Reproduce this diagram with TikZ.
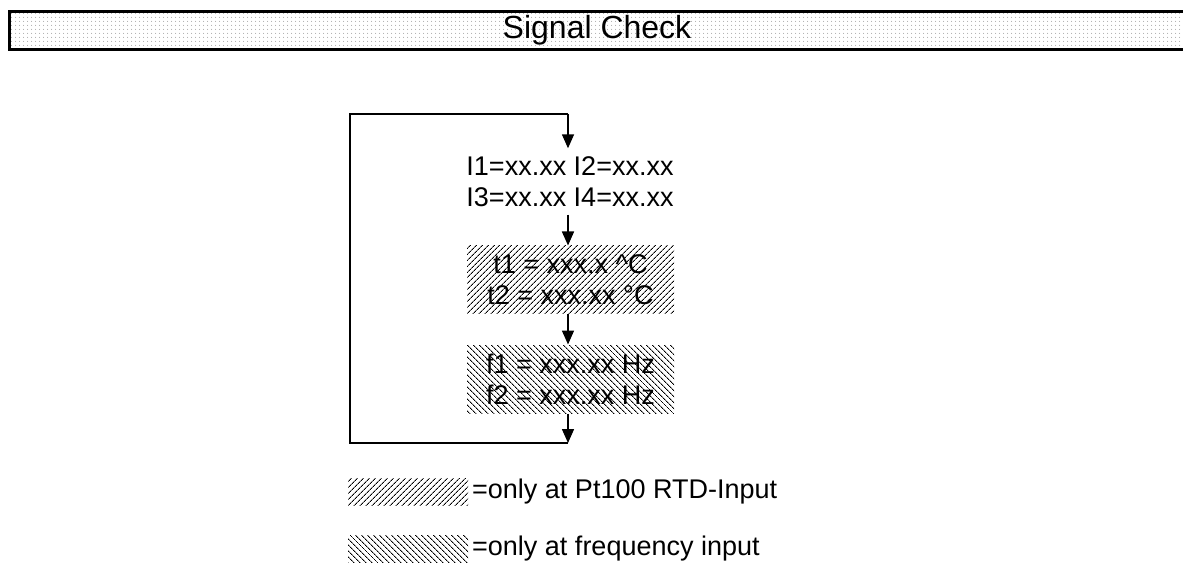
\documentclass[tikz,border=0pt]{standalone}
\usepackage{fontspec}
\setmainfont{Liberation Sans}
\usetikzlibrary{patterns.meta,arrows.meta}

\begin{document}
\begin{tikzpicture}[x=1pt,y=-1pt,
  flow/.style={-{Triangle[width=12pt,length=14pt]}, line width=1.5pt},
  loopline/.style={line width=1.5pt},
  txt/.style={font=\fontsize{27}{31}\selectfont, inner sep=0pt, align=center},
  rtd/.style={pattern={Lines[angle=45,distance=4pt,line width=1pt]}},
  freq/.style={pattern={Lines[angle=-45,distance=4pt,line width=1pt]}},
  valbox/.style={txt, minimum width=207pt},
  keybox/.style={inner sep=0pt, minimum width=120pt, minimum height=27pt},
]
\useasboundingbox (0,0) rectangle (1183,577);

% title bar
\fill[pattern={Dots[distance=4pt,radius=0.6pt]}, pattern color=gray!90]
  (9,12) rectangle (1195,49);
\draw[line width=3pt] (1195,11.5) -- (9,11.5) -- (9,49.5) -- (1195,49.5);
\node[font=\fontsize{32}{38}\selectfont, inner sep=0pt] (title) at (597,30) {Signal Check};

% display values
\node[txt, minimum height=66pt] (ival) at (570,181.5)
  {I1=xx.xx I2=xx.xx\\I3=xx.xx I4=xx.xx};
\node[valbox, rtd, minimum height=67pt] (temp) at (570.5,279.5)
  {t1 = xxx.x \textasciicircum C\\t2 = xxx.xx °C};
\node[valbox, freq, minimum height=68pt] (freqv) at (570.5,379)
  {f1 = xxx.xx Hz\\f2 = xxx.xx Hz};

% loop back
\coordinate (top) at (568,114);
\coordinate (bot) at (568,443);
\coordinate (tl) at (350,114);
\coordinate (bl) at (350,443);
\draw[loopline] (bot) -- (bl) -- (tl) -- (top);
\draw[flow] (top) -- (ival.north -| top);
\draw[flow] (ival.south -| top) -- (temp.north -| top);
\draw[flow] (temp.south -| top) -- (freqv.north -| top);
\draw[flow] (freqv.south -| top) -- (bot);

% key
\node[keybox, rtd] (keyrtd) at (408,491.5) {};
\node[txt, anchor=west] (keyrtdtxt) at (472,492) {=only at Pt100 RTD-Input};
\node[keybox, freq] (keyfreq) at (408,548.5) {};
\node[txt, anchor=west] (keyfreqtxt) at (472,549) {=only at frequency input};
\end{tikzpicture}
\end{document}
